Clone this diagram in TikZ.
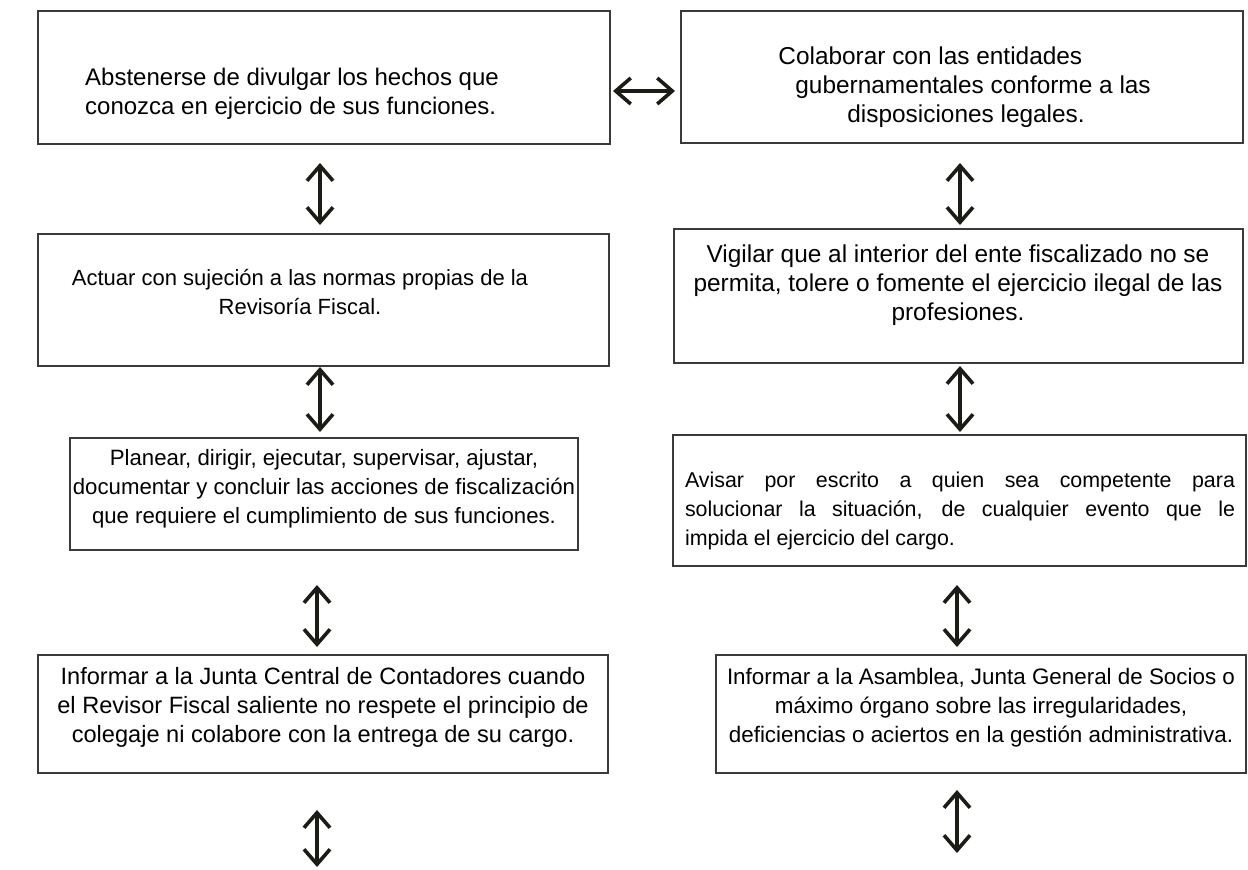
\documentclass[tikz,border=0pt]{standalone}
\usepackage{fontspec}
\setmainfont{Liberation Sans}
\usetikzlibrary{arrows.meta}
\definecolor{boxcol}{HTML}{3A3A3A}
\definecolor{arrcol}{HTML}{1C1C16}
\newcommand{\fsz}[1]{\fontsize{#1}{14.5}\selectfont}
\begin{document}
\begin{tikzpicture}[x=0.5pt,y=-0.5pt,
  box/.style={draw=boxcol,line width=1pt,inner sep=0pt,fill=none},
  txt/.style={inner sep=0pt},
  arr/.style={draw=arrcol,line width=1.8pt,{Straight Barb[length=7.5pt,width=13pt]}-{Straight Barb[length=7.5pt,width=13pt]}}]
\useasboundingbox (0,0) rectangle (1248,869);
% boxes
\node[box,minimum width=286pt,minimum height=66.5pt] (A) at (324,77.5) {};
\node[box,minimum width=281pt,minimum height=66pt] (B) at (962,77) {};
\node[box,minimum width=285.5pt,minimum height=66pt] (C) at (323.5,300) {};
\node[box,minimum width=284.5pt,minimum height=67pt] (D) at (958.5,296) {};
\node[box,minimum width=254pt,minimum height=56pt] (E) at (324,494) {};
\node[box,minimum width=286.5pt,minimum height=65.5pt] (F) at (959.5,500.5) {};
\node[box,minimum width=285pt,minimum height=59pt] (G) at (323,714) {};
\node[box,minimum width=265pt,minimum height=59pt] (H) at (981,714) {};
% texts
\node[txt,align=left,font=\fsz{12}] (tA) at (292,94) {Abstenerse de divulgar los hechos que\\conozca en ejercicio de sus funciones.};
\node[txt,align=left,anchor=west,font=\fsz{12.2}] (tB) at (778,87.5) {Colaborar con las entidades\\\hspace*{8.5pt}gubernamentales conforme a las\\\hspace*{34.5pt}disposiciones legales.};
\node[txt,align=center,font=\fsz{11}] (tC) at (300,292) {Actuar con sujeción a las normas propias de la\\Revisoría Fiscal.};
\node[txt,align=center,font=\fsz{12.2}] (tD) at (958,285) {Vigilar que al interior del ente fiscalizado no se\\permita, tolere o fomente el ejercicio ilegal de las\\profesiones.};
\node[txt,align=center,font=\fsz{11.1}] (tE) at (324,488.5) {Planear, dirigir, ejecutar, supervisar, ajustar,\\documentar y concluir las acciones de fiscalización\\que requiere el cumplimiento de sus funciones.};
\node[txt,text width=275pt,align=justify,font=\fsz{10.7}] (tF) at (960,511) {Avisar por escrito a quien sea competente para\linebreak solucionar la situación, de cualquier evento que le\linebreak impida el ejercicio del cargo.};
\node[txt,align=center,font=\fsz{11.8}] (tG) at (323,707) {Informar a la Junta Central de Contadores cuando\\el Revisor Fiscal saliente no respete el principio de\\colegaje ni colabore con la entrega de su cargo.};
\node[txt,align=center,font=\fsz{11.2}] (tH) at (981,708) {Informar a la Asamblea, Junta General de Socios o\\máximo órgano sobre las irregularidades,\\deficiencias o aciertos en la gestión administrativa.};
% arrow end points
\coordinate (h1) at (613,91);  \coordinate (h2) at (675,91);
\coordinate (l1a) at (320,163); \coordinate (l1b) at (320,225);
\coordinate (l2a) at (320,367); \coordinate (l2b) at (320,432);
\coordinate (l3a) at (317,585); \coordinate (l3b) at (317,647);
\coordinate (l4a) at (317,810); \coordinate (l4b) at (317,867);
\coordinate (r1a) at (960,163); \coordinate (r1b) at (960,225);
\coordinate (r2a) at (960,366); \coordinate (r2b) at (960,432);
\coordinate (r3a) at (957,585); \coordinate (r3b) at (957,647);
\coordinate (r4a) at (957,790); \coordinate (r4b) at (957,853);
% arrows
\draw[arr] (h1) -- (h2);
\draw[arr] (l1a) -- (l1b);
\draw[arr] (l2a) -- (l2b);
\draw[arr] (l3a) -- (l3b);
\draw[arr] (l4a) -- (l4b);
\draw[arr] (r1a) -- (r1b);
\draw[arr] (r2a) -- (r2b);
\draw[arr] (r3a) -- (r3b);
\draw[arr] (r4a) -- (r4b);
\end{tikzpicture}
\end{document}
